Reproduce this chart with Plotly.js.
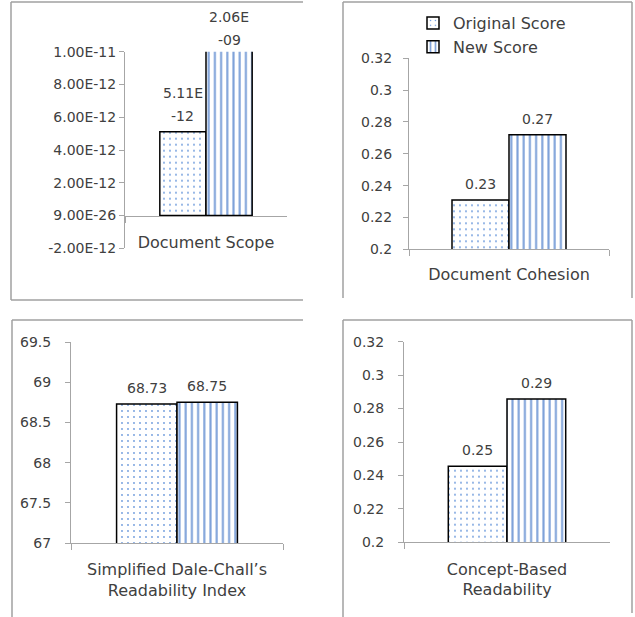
<!DOCTYPE html>
<html><head><meta charset="utf-8">
<script src="https://cdn.plot.ly/plotly-3.0.1.min.js"></script>
<style>html,body{margin:0;padding:0;background:#fff}#chart{width:635px;height:617px}</style>
</head><body><div id="chart"></div>
<script>
// ---- data ----
const seriesNames = ['Original Score', 'New Score'];
const categories = ['Document Scope', 'Document Cohesion', 'Simplified Dale-Chall’s<br>Readability Index', 'Concept-Based<br>Readability'];
const originalScores = [5.11e-12, 0.231, 68.73, 0.2455];
const newScores = [2.06e-9, 0.272, 68.75, 0.2857];
const originalLabels = ['5.11E<br>-12', '0.23', '68.73', '0.25'];
const newLabels = ['2.06E<br>-09', '0.27', '68.75', '0.29'];
const tickVals1 = [-2e-12, 0, 2e-12, 4e-12, 6e-12, 8e-12, 1e-11];
const tickText1 = ['-2.00E-12', '9.00E-26', '2.00E-12', '4.00E-12', '6.00E-12', '8.00E-12', '1.00E-11'];
const tickVals2 = [0.2, 0.22, 0.24, 0.26, 0.28, 0.3, 0.32];
const tickText2 = ['0.2', '0.22', '0.24', '0.26', '0.28', '0.3', '0.32'];
const tickVals3 = [67, 67.5, 68, 68.5, 69, 69.5];
const tickText3 = ['67', '67.5', '68', '68.5', '69', '69.5'];
const tickVals4 = [0.2, 0.22, 0.24, 0.26, 0.28, 0.3, 0.32];
const tickText4 = ['0.2', '0.22', '0.24', '0.26', '0.28', '0.3', '0.32'];
const yRanges = [[-2e-12, 1e-11], [0.2, 0.32], [67, 69.5], [0.2, 0.32]];

// ---- geometry / style ----
const W = 635, H = 617;
const FONT = 'DejaVu Sans';
const TXT = '#404040';
const AX = '#A6A6A6';
const px = v => v / W;
const py = v => 1 - v / H;
const panels = [
  {x0: 125, x1: 287, yTop: 51.7, yBot: 248.3, xAxisY: 216, ystand: 0, xstand: 12},
  {x0: 409, x1: 609, yTop: 58.3, yBot: 249.3, ystand: 8, xstand: 10},
  {x0: 71, x1: 283, yTop: 342, yBot: 543, ystand: 11, xstand: 12},
  {x0: 404, x1: 610, yTop: 341.7, yBot: 542.3, ystand: 11, xstand: 12}
];
const tickVals = [tickVals1, tickVals2, tickVals3, tickVals4];
const tickTexts = [tickText1, tickText2, tickText3, tickText4];
const BARGAP = 0.43;
const dotPattern = {shape: '.', fgcolor: '#6A98DC', bgcolor: '#FFFFFF', fgopacity: 1, size: 6, solidity: 0.07, fillmode: 'overlay'};
const linePattern = {shape: '|', fgcolor: '#7FA2D9', bgcolor: '#FFFFFF', fgopacity: 1, size: 6.2, solidity: 0.34, fillmode: 'overlay'};

const traces = [];
const layout = {
  width: W, height: H,
  margin: {l: 0, r: 0, t: 0, b: 0},
  paper_bgcolor: '#FFFFFF', plot_bgcolor: 'rgba(0,0,0,0)',
  barmode: 'group', bargap: BARGAP, bargroupgap: 0,
  font: {family: FONT, size: 14, color: TXT},
  showlegend: true,
  legend: {x: px(413), y: py(6), xanchor: 'left', yanchor: 'top', bgcolor: 'rgba(0,0,0,0)',
           font: {family: FONT, size: 16, color: TXT}, itemwidth: 30, tracegroupgap: 0},
  annotations: [], shapes: []
};

panels.forEach((p, i) => {
  const n = i === 0 ? '' : String(i + 1);
  const xa = 'x' + n, ya = 'y' + n;
  traces.push({
    type: 'bar', name: seriesNames[0], x: [categories[i]], y: [originalScores[i]],
    xaxis: xa, yaxis: ya, showlegend: i === 1, legendgroup: 'o',
    marker: {color: '#FFFFFF', pattern: dotPattern, line: {color: '#000000', width: 1.5}},
    hoverinfo: 'skip'
  });
  traces.push({
    type: 'bar', name: seriesNames[1], x: [categories[i]], y: [newScores[i]],
    xaxis: xa, yaxis: ya, showlegend: i === 1, legendgroup: 'n',
    marker: {color: '#FFFFFF', pattern: linePattern, line: {color: '#000000', width: 1.5}},
    hoverinfo: 'skip'
  });
  const xKey = 'xaxis' + n, yKey = 'yaxis' + n;
  const xAxis = {
    domain: [px(p.x0), px(p.x1)], anchor: ya, type: 'category',
    showline: true, linecolor: AX, linewidth: 1, ticks: 'outside', tickson: 'boundaries',
    ticklen: 6, tickcolor: AX, tickwidth: 1, showgrid: false, zeroline: false,
    tickfont: {family: FONT, size: 16, color: TXT}, ticklabelstandoff: p.xstand, fixedrange: true
  };
  if (p.xAxisY !== undefined) { xAxis.anchor = 'free'; xAxis.position = py(p.xAxisY); }
  layout[xKey] = xAxis;
  layout[yKey] = {
    domain: [py(p.yBot), py(p.yTop)], anchor: xa, range: yRanges[i],
    tickvals: tickVals[i], ticktext: tickTexts[i],
    showline: true, linecolor: AX, linewidth: 1, ticks: 'outside', ticklen: 5,
    tickcolor: AX, tickwidth: 1, showgrid: false, zeroline: false,
    tickfont: {family: FONT, size: 14, color: TXT}, ticklabelstandoff: p.ystand, fixedrange: true
  };
  // data labels
  const off = (1 - BARGAP) / 4;
  [[originalScores[i], originalLabels[i], -off], [newScores[i], newLabels[i], off]].forEach(([v, lab, dx]) => {
    const clipped = v > yRanges[i][1];
    const yv = Math.min(v, yRanges[i][1]);
    const lines = lab.split('<br>');
    const base = clipped ? 2 : 6;
    lines.forEach((ln, k) => {
      layout.annotations.push({
        xref: xa, yref: ya, x: dx, y: yv, text: ln, showarrow: false,
        yanchor: 'bottom', xanchor: 'center', yshift: base + (lines.length - 1 - k) * 23,
        font: {family: FONT, size: 14, color: TXT}
      });
    });
  });
});

// panel borders
const BC = '#A0A0A0';
const seg = (x0, y0, x1, y1) => layout.shapes.push({type: 'line', xref: 'paper', yref: 'paper',
  x0: px(x0), y0: py(y0), x1: px(x1), y1: py(y1), line: {color: BC, width: 1.5}});
seg(11, 2, 303, 2); seg(11, 2, 11, 300); seg(11, 300, 303, 300);
seg(343, 2, 632, 2); seg(343, 2, 343, 298); seg(632, 2, 632, 298);
seg(12, 320, 303, 320); seg(12, 320, 12, 617);
seg(343, 320, 632, 320); seg(343, 320, 343, 617); seg(632, 320, 632, 613);

Plotly.newPlot('chart', traces, layout, {displayModeBar: false, staticPlot: true});
</script>
</body></html>
